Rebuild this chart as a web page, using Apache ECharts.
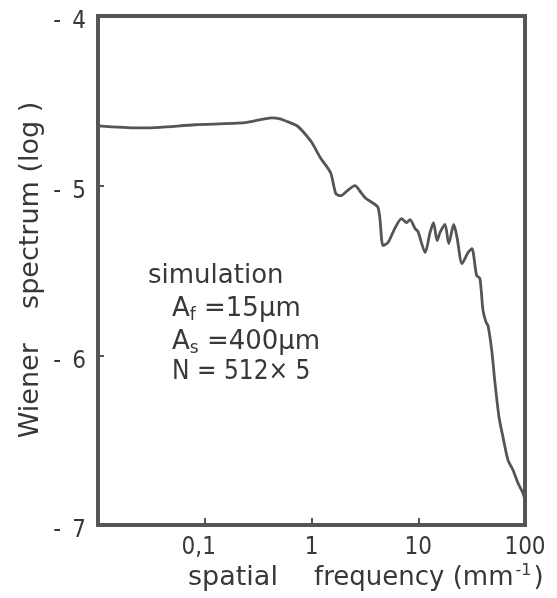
<!DOCTYPE html>
<html>
<head>
<meta charset="utf-8">
<style>
  html, body { margin: 0; padding: 0; background: #fff; }
  #chart { width: 557px; height: 598px; }
</style>
<script src="https://cdn.jsdelivr.net/npm/echarts@6/dist/echarts.min.js"></script>
</head>
<body>
<div id="chart"></div>
<script>
// Wiener spectrum of a simulated image (log10), against spatial frequency in mm^-1
const freq = [0.0100, 0.0237, 0.0380, 0.0811, 0.238, 0.426, 0.507, 0.603, 0.731, 0.851,
  1.01, 1.21, 1.51, 1.69, 1.88, 2.17, 2.55, 2.91, 3.24, 4.20,
  4.68, 5.21, 6.02, 6.97, 7.78, 8.37, 9.33, 9.95, 11.6, 12.9,
  13.9, 15.0, 16.0, 17.8, 19.3, 21.5, 23.1, 25.7, 29.3, 31.8,
  35.2, 37.8, 40.4, 43.2, 45.0, 48.8, 52.4, 57.1, 62.2, 69.3,
  77.2, 86.0, 95.7, 100];
const spectrum = [-4.647, -4.659, -4.656, -4.641, -4.629, -4.600, -4.606, -4.624, -4.647, -4.688,
  -4.747, -4.835, -4.924, -5.047, -5.059, -5.029, -5.000, -5.041, -5.076, -5.129,
  -5.353, -5.335, -5.253, -5.194, -5.218, -5.200, -5.253, -5.271, -5.394, -5.276,
  -5.218, -5.324, -5.276, -5.229, -5.341, -5.229, -5.306, -5.459, -5.394, -5.371,
  -5.529, -5.547, -5.735, -5.806, -5.824, -5.971, -6.165, -6.365, -6.482, -6.618,
  -6.676, -6.753, -6.812, -6.853];
const xTickLabels = { '0.1': '{c|0,1}', '1': '1', '10': '10', '100': '100' };
const yTitle = 'Wiener    spectrum (log )';
const xTitleWords = ['spatial', 'frequency (mm{sup|-1})'];
const noteLines = ['simulation', 'A{sub|f} =15\u00b5m', 'A{sub|s} =400\u00b5m', 'N = 512\u00d7 5'];

const NARROW = '"DejaVu Sans Condensed", "Liberation Sans Narrow", "DejaVu Sans", sans-serif';
const WIDE = '"DejaVu Sans", sans-serif';
const INK = '#383838';
const LINE = '#555555';

const chart = echarts.init(document.getElementById('chart'), null, { renderer: 'canvas' });

function fmtX(v) {
  for (const k in xTickLabels) {
    if (Math.abs(Math.log10(v) - Math.log10(+k)) < 1e-6) return xTickLabels[k];
  }
  return '';
}

const noteGraphics = noteLines.map((t, i) => ({
  type: 'text',
  x: i === 0 ? 148 : 172,
  y: [276, 309, 342, 372][i],
  style: {
    text: t,
    font: '26px ' + (i === 3 ? NARROW : WIDE),
    fill: INK,
    verticalAlign: 'middle',
    align: 'left',
    rich: {
      sub: { fontSize: 17, fontFamily: WIDE, fill: INK, padding: [14, 0, 0, 0] }
    }
  }
}));

chart.setOption({
  animation: false,
  backgroundColor: '#ffffff',
  grid: {
    left: 98, right: 32, top: 16, bottom: 73,
    show: true, borderColor: LINE, borderWidth: 4, backgroundColor: 'transparent'
  },
  xAxis: {
    type: 'log',
    logBase: 10,
    min: 0.01,
    max: 100,
    axisLine: { show: false },
    splitLine: { show: false },
    axisTick: { show: true, inside: true, length: 7, lineStyle: { color: LINE, width: 2 } },
    axisLabel: {
      formatter: fmtX,
      color: INK, fontSize: 24, fontFamily: NARROW, margin: 11,
      rich: {
        c: { fontSize: 24, fontFamily: NARROW, color: INK, padding: [0, 12, 0, 0] }
      }
    }
  },
  yAxis: {
    type: 'value',
    min: -7,
    max: -4,
    interval: 1,
    axisLine: { show: false },
    splitLine: { show: false },
    axisTick: { show: true, inside: true, length: 6, lineStyle: { color: LINE, width: 2 } },
    axisLabel: {
      formatter: v => '{v|- \u2009' + Math.abs(v) + '}',
      color: INK, fontSize: 24, fontFamily: NARROW, margin: 12,
      rich: {
        v: { fontSize: 24, fontFamily: NARROW, color: INK, padding: [12, 0, 0, 0] }
      }
    }
  },
  series: [{
    type: 'line',
    data: freq.map((f, i) => [f, spectrum[i]]),
    showSymbol: false,
    smooth: 0.25,
    clip: true,
    lineStyle: { color: LINE, width: 2.8 }
  }],
  graphic: [
    {
      type: 'text',
      x: 31, y: 270,
      rotation: Math.PI / 2,
      style: {
        text: yTitle,
        font: '27px ' + WIDE,
        fill: INK,
        align: 'center',
        verticalAlign: 'middle'
      }
    },
    {
      type: 'text',
      x: 188, y: 578,
      style: {
        text: xTitleWords[0],
        font: '27px ' + WIDE,
        fill: INK,
        align: 'left',
        verticalAlign: 'middle'
      }
    },
    {
      type: 'text',
      x: 314, y: 578,
      style: {
        text: xTitleWords[1],
        font: '26px ' + WIDE,
        fill: INK,
        align: 'left',
        verticalAlign: 'middle',
        rich: {
          sup: { fontSize: 16, fontFamily: WIDE, fill: INK, padding: [0, 2, 14, 2] }
        }
      }
    }
  ].concat(noteGraphics)
});
</script>
</body>
</html>
